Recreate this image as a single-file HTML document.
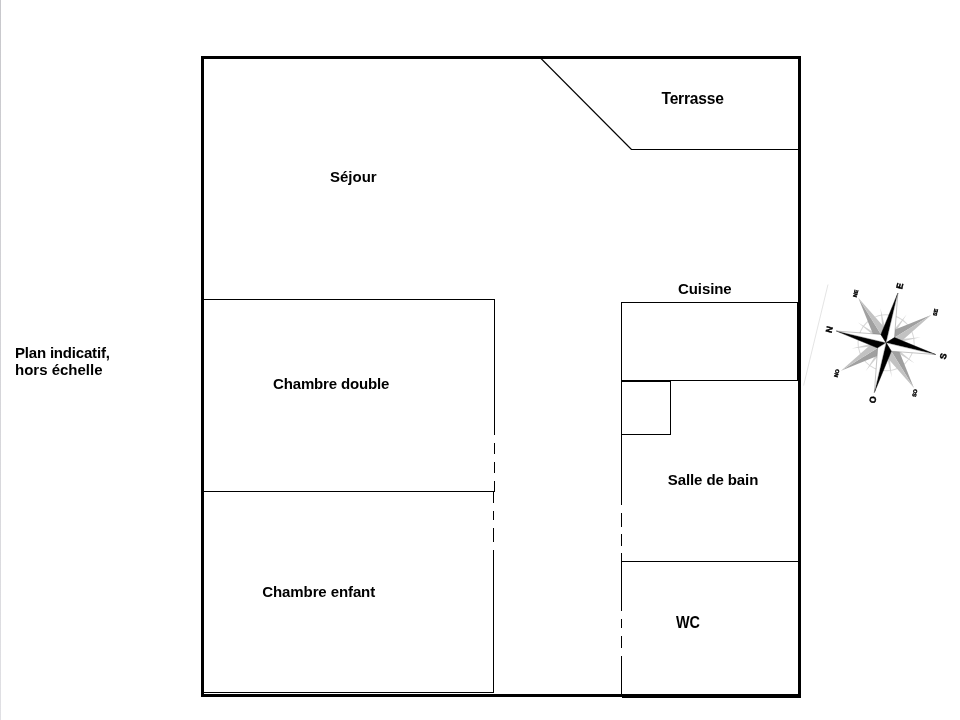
<!DOCTYPE html>
<html><head><meta charset="utf-8">
<style>
html,body{margin:0;padding:0;background:#fff;width:960px;height:720px;overflow:hidden;position:relative}
.l{position:absolute;background:#000}
svg{position:absolute;left:0;top:0}
svg{filter:grayscale(1)}
text{font-family:"Liberation Sans",sans-serif;font-weight:bold}
</style></head><body>
<div style="position:absolute;left:0;top:0;width:1px;height:720px;background:linear-gradient(#c8c8cc,#e0e0e4)"></div>
<!-- outer walls -->
<div class="l" style="left:201px;top:56px;width:600px;height:3px"></div>
<div class="l" style="left:201px;top:56px;width:3px;height:641px"></div>
<div class="l" style="left:798px;top:56px;width:3px;height:642px"></div>
<div class="l" style="left:201px;top:694px;width:600px;height:3px"></div>
<div class="l" style="left:622px;top:697px;width:179px;height:1px"></div>
<div class="l" style="left:797px;top:302px;width:1px;height:79px"></div>
<!-- chambre double -->
<div class="l" style="left:204px;top:299px;width:291px;height:1px"></div>
<div class="l" style="left:494px;top:299px;width:1px;height:136px"></div>
<div class="l" style="left:494px;top:443px;width:1px;height:11px"></div>
<div class="l" style="left:494px;top:462px;width:1px;height:11px"></div>
<div class="l" style="left:494px;top:481px;width:1px;height:11px"></div>
<div class="l" style="left:204px;top:491px;width:291px;height:1px"></div>
<!-- chambre enfant -->
<div class="l" style="left:493px;top:491px;width:1px;height:12px"></div>
<div class="l" style="left:493px;top:511px;width:1px;height:9px"></div>
<div class="l" style="left:493px;top:528px;width:1px;height:14px"></div>
<div class="l" style="left:493px;top:550px;width:1px;height:143px"></div>
<div class="l" style="left:204px;top:692px;width:290px;height:1px"></div>
<!-- right column -->
<div class="l" style="left:621px;top:302px;width:177px;height:1px"></div>
<div class="l" style="left:621px;top:302px;width:1px;height:203px"></div>
<div class="l" style="left:621px;top:513px;width:1px;height:14px"></div>
<div class="l" style="left:621px;top:534px;width:1px;height:12px"></div>
<div class="l" style="left:621px;top:553px;width:1px;height:58px"></div>
<div class="l" style="left:621px;top:619px;width:1px;height:9px"></div>
<div class="l" style="left:621px;top:636px;width:1px;height:12px"></div>
<div class="l" style="left:621px;top:656px;width:1px;height:39px"></div>
<div class="l" style="left:621px;top:380px;width:177px;height:1px"></div>
<div class="l" style="left:621px;top:381px;width:50px;height:1px"></div>
<div class="l" style="left:670px;top:380px;width:1px;height:55px"></div>
<div class="l" style="left:621px;top:434px;width:50px;height:1px"></div>
<div class="l" style="left:621px;top:561px;width:178px;height:1px"></div>
<div class="l" style="left:631px;top:149px;width:168px;height:1px"></div>

<svg width="960" height="720" viewBox="0 0 960 720">
<line x1="541" y1="58.5" x2="631.5" y2="149.5" stroke="#000" stroke-width="1.1"/>
<g font-size="15" fill="#000">
<text x="330" y="182">Séjour</text>
<text x="661.5" y="104" font-size="15.6" textLength="62.4" lengthAdjust="spacing">Terrasse</text>
<text x="273" y="388.5" letter-spacing="-0.15">Chambre double</text>
<text x="262.3" y="596.5" letter-spacing="-0.1">Chambre enfant</text>
<text x="678" y="294" letter-spacing="-0.08">Cuisine</text>
<text x="667.8" y="484.8" letter-spacing="-0.1">Salle de bain</text>
<text x="676" y="628.2" font-size="15.6" textLength="24" lengthAdjust="spacingAndGlyphs">WC</text>
<text x="15" y="358" letter-spacing="-0.19">Plan indicatif,</text>
<text x="15" y="375.2">hors échelle</text>
</g>
<line x1="828" y1="284.5" x2="803.6" y2="385.5" stroke="#ddd" stroke-width="0.8"/>
<g transform="translate(886.1,342.8) rotate(-76.7)">
  <circle r="28" fill="none" stroke="#d8d8d8" stroke-width="1"/>
  <g fill="#d0d0d0">
    <path d="M0,-35 L1.8,-8 L-1.8,-8Z" transform="rotate(22.5)"/>
    <path d="M0,-35 L1.8,-8 L-1.8,-8Z" transform="rotate(67.5)"/>
    <path d="M0,-35 L1.8,-8 L-1.8,-8Z" transform="rotate(112.5)"/>
    <path d="M0,-35 L1.8,-8 L-1.8,-8Z" transform="rotate(157.5)"/>
    <path d="M0,-35 L1.8,-8 L-1.8,-8Z" transform="rotate(202.5)"/>
    <path d="M0,-35 L1.8,-8 L-1.8,-8Z" transform="rotate(247.5)"/>
    <path d="M0,-35 L1.8,-8 L-1.8,-8Z" transform="rotate(292.5)"/>
    <path d="M0,-35 L1.8,-8 L-1.8,-8Z" transform="rotate(337.5)"/>
  </g>
  <g>
    <g transform="rotate(45)"><path d="M0,-53 L-7,-12 L0,0Z" fill="#a0a0a0"/><path d="M0,-53 L7,-12 L0,0Z" fill="#c2c2c2"/></g>
    <g transform="rotate(135)"><path d="M0,-53 L-7,-12 L0,0Z" fill="#a0a0a0"/><path d="M0,-53 L7,-12 L0,0Z" fill="#c2c2c2"/></g>
    <g transform="rotate(225)"><path d="M0,-53 L-7,-12 L0,0Z" fill="#a0a0a0"/><path d="M0,-53 L7,-12 L0,0Z" fill="#c2c2c2"/></g>
    <g transform="rotate(315)"><path d="M0,-53 L-7,-12 L0,0Z" fill="#a0a0a0"/><path d="M0,-53 L7,-12 L0,0Z" fill="#c2c2c2"/></g>
  </g>
  <g stroke="#777" stroke-width="0.4" stroke-linejoin="miter">
    <g transform="rotate(0)"><path d="M0,-51 L-7,-7 L0,0Z" fill="#000" stroke="#000"/><path d="M0,-51 L7,-7 L0,0Z" fill="#fff"/></g>
    <g transform="rotate(90)"><path d="M0,-51 L-7,-7 L0,0Z" fill="#000" stroke="#000"/><path d="M0,-51 L7,-7 L0,0Z" fill="#fff"/></g>
    <g transform="rotate(180)"><path d="M0,-51 L-7,-7 L0,0Z" fill="#000" stroke="#000"/><path d="M0,-51 L7,-7 L0,0Z" fill="#fff"/></g>
    <g transform="rotate(270)"><path d="M0,-51 L-7,-7 L0,0Z" fill="#000" stroke="#000"/><path d="M0,-51 L7,-7 L0,0Z" fill="#fff"/></g>
  </g>
  <g font-size="8.8" text-anchor="middle" fill="#000" stroke="#000" stroke-width="0.45">
    <text x="0" y="-55.4">N</text>
    <text x="58.5" y="3.2">E</text>
    <text x="0" y="61.7">S</text>
    <text x="-58.5" y="3.2">O</text>
  </g>
  <g font-size="5.3" text-anchor="middle" fill="#000" stroke="#000" stroke-width="0.4">
    <text x="41" y="-39.2">NE</text>
    <text x="41" y="42.9">SE</text>
    <text x="-42.4" y="41.3">SO</text>
    <text x="-41" y="-39.2">NO</text>
  </g>
</g>
</svg>
</body></html>
